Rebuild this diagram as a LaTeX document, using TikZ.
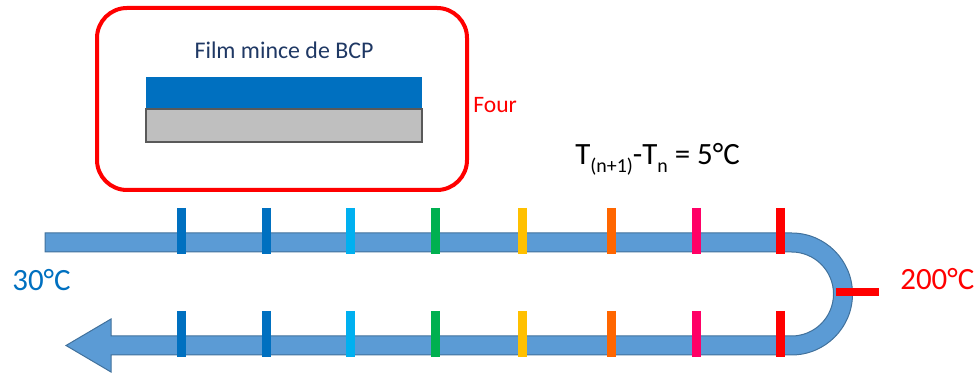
\documentclass[tikz,border=0pt]{standalone}
\usepackage{fontspec}
\setmainfont{Carlito}
\usepackage{xcolor}

\definecolor{bandblue}{HTML}{5B9BD5}
\definecolor{bandedge}{HTML}{41719C}
\definecolor{filmblue}{HTML}{0070C0}
\definecolor{filmgray}{HTML}{BFBFBF}
\definecolor{filmedge}{HTML}{595959}
\definecolor{navy}{HTML}{1F3864}
\definecolor{tdark}{HTML}{0070C0}
\definecolor{tlight}{HTML}{00B0F0}
\definecolor{tgreen}{HTML}{00B050}
\definecolor{tyellow}{HTML}{FFC000}
\definecolor{torange}{HTML}{FF6600}
\definecolor{tpink}{HTML}{FF0066}
\definecolor{tred}{HTML}{FF0000}

\tikzset{
  tickmark/.style={line width=0.18cm},
  label/.style={inner sep=0pt, anchor=base west}
}

\begin{document}
\begin{tikzpicture}[x=0.02cm, y=0.02cm]
\useasboundingbox (0,0) rectangle (979,374);

        % Oven with the thin film
        \draw[line width=0.08cm, tred, rounded corners=0.6cm] (97,184) rectangle (467,366);
        \fill[filmblue] (146,265) rectangle (422,297);
        \draw[line width=0.04cm, filmedge, fill=filmgray] (146,232) rectangle (422,265);

        \node[navy, inner sep=0pt, anchor=base, font=\fontsize{13.6}{16}\selectfont] (film) at (284,315) {Film mince de BCP};
        \node[label, tred, font=\fontsize{13.4}{16}\selectfont] (four) at (473,261) {Four};

        % Temperature step
        \node[label, font=\fontsize{17.6}{20}\selectfont] (step) at (575,209)
            {T\raisebox{-4.5pt}{\fontsize{11.3}{13}\selectfont (n+1)}-T\raisebox{-4.5pt}{\fontsize{11.3}{13}\selectfont n} = 5°C};

        % Centre of the U-turn
        \coordinate (U) at (791.5,80);

        % Band going out and coming back
        \draw[line width=0.02cm, bandedge, fill=bandblue]
            (45,141) -- (791.5,141) arc (90:-90:61) -- (111,19) -- (111,2) -- (66,28.5)
            -- (111,55) -- (111,38) -- (791.5,38) arc (-90:90:42) -- (45,122) -- cycle;

        % Ticks on the way out
        \coordinate (A1) at (181.3,166);
        \coordinate (A2) at (266.3,166);
        \coordinate (A3) at (350.3,166);
        \coordinate (A4) at (435.3,166);
        \coordinate (A5) at (522.3,166);
        \coordinate (A6) at (611.3,166);
        \coordinate (A7) at (696.3,166);
        \coordinate (A8) at (780.3,166);

        % Ticks on the way back
        \coordinate (B1) at (181.3,63);
        \coordinate (B2) at (266.3,63);
        \coordinate (B3) at (350.3,63);
        \coordinate (B4) at (435.3,63);
        \coordinate (B5) at (522.3,63);
        \coordinate (B6) at (611.3,63);
        \coordinate (B7) at (696.3,63);
        \coordinate (B8) at (780.3,63);

        \draw[tickmark, tdark] (A1) -- ++(0,-46);
        \draw[tickmark, tdark] (A2) -- ++(0,-46);
        \draw[tickmark, tlight] (A3) -- ++(0,-46);
        \draw[tickmark, tgreen] (A4) -- ++(0,-46);
        \draw[tickmark, tyellow] (A5) -- ++(0,-46);
        \draw[tickmark, torange] (A6) -- ++(0,-46);
        \draw[tickmark, tpink] (A7) -- ++(0,-46);
        \draw[tickmark, tred] (A8) -- ++(0,-46);

        \draw[tickmark, tdark] (B1) -- ++(0,-46);
        \draw[tickmark, tdark] (B2) -- ++(0,-46);
        \draw[tickmark, tlight] (B3) -- ++(0,-46);
        \draw[tickmark, tgreen] (B4) -- ++(0,-46);
        \draw[tickmark, tyellow] (B5) -- ++(0,-46);
        \draw[tickmark, torange] (B6) -- ++(0,-46);
        \draw[tickmark, tpink] (B7) -- ++(0,-46);
        \draw[tickmark, tred] (B8) -- ++(0,-46);

        % Tick at the turning point
        \coordinate (C) at (836,82);
        \draw[line width=0.16cm, tred] (C) -- ++(43,0);

        % End temperatures
        \node[label, tdark, font=\fontsize{17.6}{20}\selectfont] (low) at (12,83) {30°C};
        \node[label, tred, font=\fontsize{17.6}{20}\selectfont] (high) at (900,84) {200°C};
\end{tikzpicture}
\end{document}
